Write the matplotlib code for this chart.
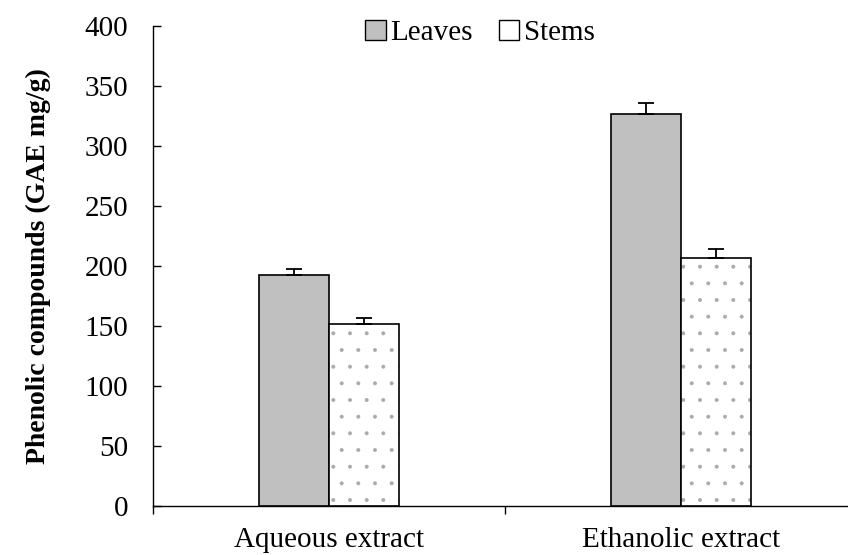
import matplotlib
matplotlib.use("Agg")
import matplotlib.pyplot as plt
import matplotlib.patches as mpatches
import numpy as np

plt.rcParams["font.family"] = ["Liberation Serif", "DejaVu Serif"]
plt.rcParams["hatch.linewidth"] = 0.4

# data
categories = ["Aqueous extract", "Ethanolic extract"]
leaves = [192.5, 326.7]
leaves_err = [5.0, 9.0]
stems = [151.6, 206.5]
stems_err = [4.8, 7.5]

FS = 21
BW = 0.2

fig = plt.figure(figsize=(8.48, 5.55), dpi=100)
ax = fig.add_axes([153/848, 49/555, 704/848, 480/555])

x = np.arange(len(categories))

# leaves bars
ax.bar(x - BW/2, leaves, BW, color="#c0c0c0", edgecolor="black", linewidth=1.2, zorder=3)
ax.errorbar(x - BW/2, leaves, yerr=[[0]*len(leaves), leaves_err], fmt="none",
            ecolor="black", elinewidth=1.3, capsize=5.5, capthick=1.3, zorder=4)

# stems bars: dotted fill first, black outline on top
ax.bar(x + BW/2, stems, BW, color="white", edgecolor="#aaaaaa", hatch=".", linewidth=0, zorder=3)
ax.bar(x + BW/2, stems, BW, color="none", edgecolor="black", linewidth=1.2, zorder=3)
ax.errorbar(x + BW/2, stems, yerr=[[0]*len(stems), stems_err], fmt="none",
            ecolor="black", elinewidth=1.3, capsize=5.5, capthick=1.3, zorder=4)

ax.set_xlim(-0.5, 1.5)
ax.set_ylim(0, 400)
ax.set_yticks(range(0, 401, 50))
ax.tick_params(axis="y", direction="in", length=6, width=1, labelsize=FS, pad=18)

# category ticks between groups, labels at group centres
ax.set_xticks([-0.5, 0.5, 1.5])
ax.set_xticklabels([])
ax.tick_params(axis="x", which="major", direction="out", length=6, width=1)
ax.set_xticks(x, minor=True)
ax.set_xticklabels(categories, minor=True)
ax.tick_params(axis="x", which="minor", length=0, labelsize=FS, pad=15)

for s in ["top", "right"]:
    ax.spines[s].set_visible(False)
for s in ["left", "bottom"]:
    ax.spines[s].set_linewidth(1)

ax.set_ylabel("Phenolic compounds (GAE mg/g)", fontsize=20, fontweight="bold", labelpad=24)

handles = [
    mpatches.Patch(facecolor="#c0c0c0", edgecolor="black", linewidth=1, label="Leaves"),
    mpatches.Patch(facecolor="white", edgecolor="black", linewidth=1, label="Stems"),
]
fig.legend(handles=handles, loc="center", bbox_to_anchor=(480/848, 1 - 33/555), ncol=2,
           frameon=False, fontsize=FS, handlelength=0.7, handleheight=0.7,
           handletextpad=0.15, columnspacing=0.9)

fig.savefig("out.png", dpi=100)
